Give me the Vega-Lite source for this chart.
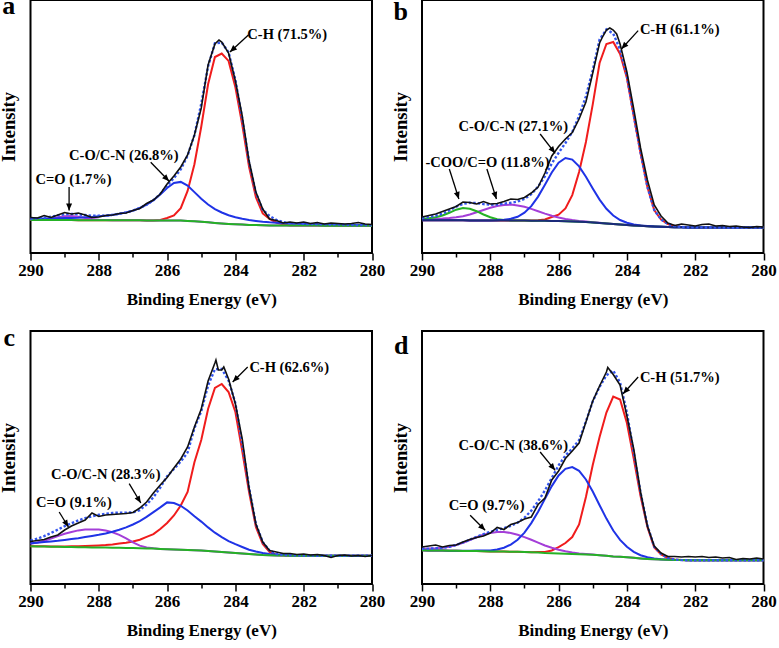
{
"$schema": "https://vega.github.io/schema/vega-lite/v6.json",
"background": "white",
"padding": {"left": -1.5, "top": -8, "right": 0, "bottom": 0},
"autosize": {"type": "pad"},
"datasets": {"xps": [
{"p":"a","e":290,"bg":33,"ch":33,"co":34.2,"cdo":33,"fit":34.2,"exp":35.5},
{"p":"a","e":289.8,"bg":33,"ch":33,"co":34.3,"cdo":33.3,"fit":34.6,"exp":35},
{"p":"a","e":289.6,"bg":33,"ch":33,"co":34.5,"cdo":33.8,"fit":35.3,"exp":37.5},
{"p":"a","e":289.4,"bg":32.9,"ch":32.9,"co":34.5,"cdo":34.6,"fit":36.2,"exp":35.5},
{"p":"a","e":289.2,"bg":32.9,"ch":32.9,"co":34.7,"cdo":35.8,"fit":37.6,"exp":38},
{"p":"a","e":289,"bg":32.9,"ch":32.9,"co":34.9,"cdo":36.7,"fit":38.7,"exp":40.5},
{"p":"a","e":288.8,"bg":32.9,"ch":32.9,"co":35.1,"cdo":36.9,"fit":39.1,"exp":39},
{"p":"a","e":288.6,"bg":32.8,"ch":32.8,"co":35.3,"cdo":36.2,"fit":38.7,"exp":40},
{"p":"a","e":288.4,"bg":32.8,"ch":32.8,"co":35.7,"cdo":35.1,"fit":38,"exp":38},
{"p":"a","e":288.2,"bg":32.8,"ch":32.8,"co":36.1,"cdo":34,"fit":37.3,"exp":35.5},
{"p":"a","e":288,"bg":32.8,"ch":32.8,"co":36.7,"cdo":33.3,"fit":37.2,"exp":36},
{"p":"a","e":287.8,"bg":32.8,"ch":32.8,"co":37.3,"cdo":33,"fit":37.5,"exp":37.5},
{"p":"a","e":287.6,"bg":32.7,"ch":32.7,"co":38.1,"cdo":32.7,"fit":38.1,"exp":38},
{"p":"a","e":287.4,"bg":32.7,"ch":32.7,"co":39.2,"cdo":32.7,"fit":39.2,"exp":39.5},
{"p":"a","e":287.2,"bg":32.7,"ch":32.7,"co":40.6,"cdo":32.7,"fit":40.6,"exp":40},
{"p":"a","e":287,"bg":32.7,"ch":32.7,"co":42.4,"cdo":32.7,"fit":42.4,"exp":42.5},
{"p":"a","e":286.8,"bg":32.7,"ch":32.7,"co":45,"cdo":32.7,"fit":45,"exp":44.5},
{"p":"a","e":286.6,"bg":32.6,"ch":32.6,"co":48.3,"cdo":32.6,"fit":48.3,"exp":49.5},
{"p":"a","e":286.4,"bg":32.6,"ch":32.6,"co":52.8,"cdo":32.6,"fit":52.8,"exp":53},
{"p":"a","e":286.2,"bg":32.6,"ch":33.1,"co":58.6,"cdo":32.6,"fit":59.1,"exp":59},
{"p":"a","e":286,"bg":32.6,"ch":35,"co":65,"cdo":32.6,"fit":67.4,"exp":69},
{"p":"a","e":285.8,"bg":32.5,"ch":37.5,"co":70,"cdo":32.5,"fit":75,"exp":77},
{"p":"a","e":285.6,"bg":32.4,"ch":44.9,"co":71.1,"cdo":32.4,"fit":83.6,"exp":86},
{"p":"a","e":285.4,"bg":32.1,"ch":62.1,"co":67.4,"cdo":32.1,"fit":97.4,"exp":98},
{"p":"a","e":285.2,"bg":31.7,"ch":88.7,"co":60.9,"cdo":31.7,"fit":117.9,"exp":118},
{"p":"a","e":285,"bg":31.2,"ch":126.2,"co":54.2,"cdo":31.2,"fit":149.2,"exp":145},
{"p":"a","e":284.8,"bg":30.7,"ch":168.7,"co":48.5,"cdo":30.7,"fit":186.5,"exp":188},
{"p":"a","e":284.6,"bg":30.1,"ch":196,"co":43.9,"cdo":30.1,"fit":209.8,"exp":209},
{"p":"a","e":284.48,"exp":213},
{"p":"a","e":284.4,"bg":29.6,"ch":199.5,"co":40.5,"cdo":29.6,"fit":210.4,"exp":211},
{"p":"a","e":284.2,"bg":29.1,"ch":192.1,"co":37.8,"cdo":29.1,"fit":200.8,"exp":200},
{"p":"a","e":284,"bg":28.7,"ch":165.7,"co":35.8,"cdo":28.7,"fit":172.8,"exp":172},
{"p":"a","e":283.8,"bg":28.4,"ch":128.4,"co":34.3,"cdo":28.4,"fit":134.3,"exp":137},
{"p":"a","e":283.6,"bg":28.1,"ch":86.1,"co":33,"cdo":28.1,"fit":91,"exp":92},
{"p":"a","e":283.4,"bg":27.9,"ch":55.9,"co":32.1,"cdo":27.9,"fit":60.1,"exp":61},
{"p":"a","e":283.2,"bg":27.7,"ch":39.5,"co":31.3,"cdo":27.7,"fit":43.1,"exp":44},
{"p":"a","e":283,"bg":27.6,"ch":34,"co":30.7,"cdo":27.6,"fit":37.1,"exp":34},
{"p":"a","e":282.8,"bg":27.6,"ch":30.5,"co":30.3,"cdo":27.6,"fit":33.2,"exp":32.5},
{"p":"a","e":282.6,"bg":27.5,"ch":28.5,"co":29.9,"cdo":27.5,"fit":30.9,"exp":30},
{"p":"a","e":282.4,"bg":27.5,"ch":27.6,"co":29.6,"cdo":27.5,"fit":29.7,"exp":31},
{"p":"a","e":282.2,"bg":27.5,"ch":27.5,"co":29.4,"cdo":27.5,"fit":29.4,"exp":30},
{"p":"a","e":282,"bg":27.4,"ch":27.4,"co":29.1,"cdo":27.4,"fit":29.1,"exp":31},
{"p":"a","e":281.8,"bg":27.4,"ch":27.4,"co":29,"cdo":27.4,"fit":29,"exp":29.5},
{"p":"a","e":281.6,"bg":27.4,"ch":27.4,"co":28.8,"cdo":27.4,"fit":28.8,"exp":30.5},
{"p":"a","e":281.4,"bg":27.3,"ch":27.3,"co":28.6,"cdo":27.3,"fit":28.6,"exp":29},
{"p":"a","e":281.2,"bg":27.3,"ch":27.3,"co":28.5,"cdo":27.3,"fit":28.5,"exp":30},
{"p":"a","e":281,"bg":27.3,"ch":27.3,"co":28.4,"cdo":27.3,"fit":28.4,"exp":29.5},
{"p":"a","e":280.8,"bg":27.3,"ch":27.3,"co":28.3,"cdo":27.3,"fit":28.3,"exp":29},
{"p":"a","e":280.6,"bg":27.2,"ch":27.2,"co":28.1,"cdo":27.2,"fit":28.1,"exp":29.5},
{"p":"a","e":280.4,"bg":27.2,"ch":27.2,"co":28,"cdo":27.2,"fit":28,"exp":30.5},
{"p":"a","e":280.2,"bg":27.2,"ch":27.2,"co":27.9,"cdo":27.2,"fit":27.9,"exp":29},
{"p":"a","e":280,"bg":27.2,"ch":27.2,"co":27.9,"cdo":27.2,"fit":27.9,"exp":28.5},

{"p":"b","e":290,"bgn":32.8,"ch":32.8,"co":32.8,"cdo":33.8,"coo":34.3,"fit":35.3,"exp":36},
{"p":"b","e":289.8,"bgn":32.8,"ch":32.8,"co":32.8,"cdo":34,"coo":34.8,"fit":36,"exp":37.5},
{"p":"b","e":289.6,"bgn":32.8,"ch":32.8,"co":32.8,"cdo":34.3,"coo":35.8,"fit":37.3,"exp":39},
{"p":"b","e":289.4,"bgn":32.7,"ch":32.7,"co":32.7,"cdo":34.5,"coo":37.5,"fit":39.3,"exp":41.5},
{"p":"b","e":289.2,"bgn":32.7,"ch":32.7,"co":32.7,"cdo":35,"coo":40.2,"fit":42.5,"exp":44},
{"p":"b","e":289,"bgn":32.7,"ch":32.7,"co":32.7,"cdo":35.7,"coo":43.3,"fit":46.3,"exp":46.5},
{"p":"b","e":288.8,"bgn":32.7,"ch":32.7,"co":32.7,"cdo":36.8,"coo":45,"fit":49.1,"exp":51},
{"p":"b","e":288.6,"bgn":32.6,"ch":32.6,"co":32.6,"cdo":38.5,"coo":44.3,"fit":50.2,"exp":50.5},
{"p":"b","e":288.4,"bgn":32.6,"ch":32.6,"co":32.6,"cdo":40.7,"coo":41.8,"fit":49.9,"exp":49},
{"p":"b","e":288.2,"bgn":32.6,"ch":32.6,"co":32.6,"cdo":43,"coo":38.5,"fit":48.9,"exp":51.5},
{"p":"b","e":288,"bgn":32.6,"ch":32.6,"co":32.6,"cdo":45.2,"coo":35.7,"fit":48.3,"exp":49},
{"p":"b","e":287.8,"bgn":32.5,"ch":32.5,"co":32.7,"cdo":47,"coo":33.8,"fit":48.5,"exp":49.5},
{"p":"b","e":287.6,"bgn":32.5,"ch":32.5,"co":33.2,"cdo":48.1,"coo":33,"fit":49.3,"exp":51.5},
{"p":"b","e":287.4,"bgn":32.5,"ch":32.5,"co":34.2,"cdo":48.4,"coo":32.6,"fit":50.2,"exp":54},
{"p":"b","e":287.2,"bgn":32.4,"ch":32.4,"co":36.2,"cdo":47.6,"coo":32.4,"fit":51.4,"exp":53.5},
{"p":"b","e":287,"bgn":32.4,"ch":32.4,"co":40.3,"cdo":46.2,"coo":32.4,"fit":54.1,"exp":55.5},
{"p":"b","e":286.8,"bgn":32.3,"ch":32.5,"co":46.8,"cdo":44.1,"coo":32.3,"fit":58.8,"exp":60},
{"p":"b","e":286.6,"bgn":32.3,"ch":32.8,"co":56.4,"cdo":41.8,"coo":32.3,"fit":66.4,"exp":66},
{"p":"b","e":286.4,"bgn":32.2,"ch":33.5,"co":68.2,"cdo":39.4,"coo":32.2,"fit":76.7,"exp":80},
{"p":"b","e":286.2,"bgn":32.1,"ch":36,"co":80.5,"cdo":37.2,"coo":32.1,"fit":89.5,"exp":97},
{"p":"b","e":286,"bgn":32,"ch":38.3,"co":90.3,"cdo":35.5,"coo":32,"fit":100.1,"exp":106.5},
{"p":"b","e":285.8,"bgn":31.8,"ch":44.6,"co":95,"cdo":34,"coo":31.8,"fit":110,"exp":114},
{"p":"b","e":285.6,"bgn":31.6,"ch":57.9,"co":93.4,"cdo":32.9,"coo":31.6,"fit":121,"exp":120.5},
{"p":"b","e":285.4,"bgn":31.3,"ch":81,"co":86.6,"cdo":32,"coo":31.3,"fit":137,"exp":134},
{"p":"b","e":285.2,"bgn":31,"ch":111,"co":76.3,"cdo":31.4,"coo":31,"fit":156.7,"exp":151},
{"p":"b","e":285,"bgn":30.6,"ch":148.6,"co":64.6,"cdo":30.8,"coo":30.6,"fit":182.8,"exp":180},
{"p":"b","e":284.8,"bgn":30.1,"ch":190,"co":53.4,"cdo":30.2,"coo":30.1,"fit":213.4,"exp":210},
{"p":"b","e":284.7,"exp":217},
{"p":"b","e":284.6,"bgn":29.6,"ch":209,"co":44.2,"cdo":29.6,"coo":29.6,"fit":223.6,"exp":223},
{"p":"b","e":284.5,"exp":225},
{"p":"b","e":284.4,"bgn":29.1,"ch":211,"co":37.5,"cdo":29.1,"coo":29.1,"fit":219.4,"exp":223},
{"p":"b","e":284.3,"exp":219},
{"p":"b","e":284.2,"bgn":28.6,"ch":199,"co":33,"cdo":28.6,"coo":28.6,"fit":203.4,"exp":209},
{"p":"b","e":284,"bgn":28.1,"ch":175,"co":30.2,"cdo":28.1,"coo":28.1,"fit":177.1,"exp":181},
{"p":"b","e":283.8,"bgn":27.6,"ch":137,"co":28.5,"cdo":27.6,"coo":27.6,"fit":137.9,"exp":144},
{"p":"b","e":283.6,"bgn":27.2,"ch":100,"co":27.6,"cdo":27.2,"coo":27.2,"fit":100.4,"exp":105},
{"p":"b","e":283.4,"bgn":26.8,"ch":66,"co":27,"cdo":26.8,"coo":26.8,"fit":66.2,"exp":73},
{"p":"b","e":283.2,"bgn":26.5,"ch":43,"co":26.5,"cdo":26.5,"coo":26.5,"fit":43,"exp":48},
{"p":"b","e":283,"bgn":26.2,"ch":33.5,"co":26.2,"cdo":26.2,"coo":26.2,"fit":33.5,"exp":37},
{"p":"b","e":282.8,"bgn":26,"ch":29,"co":26,"cdo":26,"coo":26,"fit":29,"exp":30},
{"p":"b","e":282.6,"bgn":25.8,"ch":27,"co":25.8,"cdo":25.8,"coo":25.8,"fit":27,"exp":27.5},
{"p":"b","e":282.4,"bgn":25.7,"ch":26,"co":25.7,"cdo":25.7,"coo":25.7,"fit":26,"exp":29},
{"p":"b","e":282.2,"bgn":25.6,"ch":25.6,"co":25.6,"cdo":25.6,"coo":25.6,"fit":25.6,"exp":28},
{"p":"b","e":282,"bgn":25.6,"ch":25.6,"co":25.6,"cdo":25.6,"coo":25.6,"fit":25.6,"exp":27},
{"p":"b","e":281.8,"bgn":25.6,"ch":25.6,"co":25.6,"cdo":25.6,"coo":25.6,"fit":25.6,"exp":28.5},
{"p":"b","e":281.6,"bgn":25.5,"ch":25.5,"co":25.5,"cdo":25.5,"coo":25.5,"fit":25.5,"exp":29},
{"p":"b","e":281.4,"bgn":25.5,"ch":25.5,"co":25.5,"cdo":25.5,"coo":25.5,"fit":25.5,"exp":27},
{"p":"b","e":281.2,"bgn":25.5,"ch":25.5,"co":25.5,"cdo":25.5,"coo":25.5,"fit":25.5,"exp":27.5},
{"p":"b","e":281,"bgn":25.5,"ch":25.5,"co":25.5,"cdo":25.5,"coo":25.5,"fit":25.5,"exp":26.5},
{"p":"b","e":280.8,"bgn":25.5,"ch":25.5,"co":25.5,"cdo":25.5,"coo":25.5,"fit":25.5,"exp":27},
{"p":"b","e":280.6,"bgn":25.5,"ch":25.5,"co":25.5,"cdo":25.5,"coo":25.5,"fit":25.5,"exp":26},
{"p":"b","e":280.4,"bgn":25.5,"ch":25.5,"co":25.5,"cdo":25.5,"coo":25.5,"fit":25.5,"exp":25.5},
{"p":"b","e":280.2,"bgn":25.5,"ch":25.5,"co":25.5,"cdo":25.5,"coo":25.5,"fit":25.5,"exp":26.5},
{"p":"b","e":280,"bgn":25.5,"ch":25.5,"co":25.5,"cdo":25.5,"coo":25.5,"fit":25.5,"exp":26},

{"p":"c","e":290,"bg":37.7,"ch":37.7,"co":40.7,"cdo":40.3,"fit":43.3,"exp":42.5},
{"p":"c","e":289.8,"bg":37.6,"ch":37.7,"co":41.3,"cdo":41.5,"fit":45.3,"exp":43.5},
{"p":"c","e":289.6,"bg":37.5,"ch":37.7,"co":41.9,"cdo":43.3,"fit":47.9,"exp":44.5},
{"p":"c","e":289.4,"bg":37.3,"ch":37.6,"co":42.5,"cdo":45.5,"fit":51,"exp":47},
{"p":"c","e":289.2,"bg":37.2,"ch":37.6,"co":43.2,"cdo":47.9,"fit":54.3,"exp":49},
{"p":"c","e":289,"bg":37.1,"ch":37.6,"co":44.1,"cdo":50.3,"fit":57.8,"exp":54},
{"p":"c","e":288.8,"bg":37,"ch":37.7,"co":45,"cdo":52,"fit":60.7,"exp":58},
{"p":"c","e":288.6,"bg":36.8,"ch":37.8,"co":45.8,"cdo":53.6,"fit":63.6,"exp":61},
{"p":"c","e":288.4,"bg":36.7,"ch":38,"co":46.9,"cdo":54.4,"fit":65.9,"exp":64},
{"p":"c","e":288.2,"bg":36.6,"ch":38.3,"co":48,"cdo":54.6,"fit":67.7,"exp":71},
{"p":"c","e":288,"bg":36.5,"ch":38.6,"co":49.2,"cdo":54.4,"fit":69.2,"exp":67.5},
{"p":"c","e":287.8,"bg":36.4,"ch":39,"co":50.6,"cdo":53.4,"fit":70.2,"exp":69},
{"p":"c","e":287.6,"bg":36.3,"ch":39.6,"co":52.3,"cdo":51.8,"fit":71.1,"exp":69.5},
{"p":"c","e":287.4,"bg":36.2,"ch":40.4,"co":54.2,"cdo":49.1,"fit":71.3,"exp":70},
{"p":"c","e":287.2,"bg":36.1,"ch":41.3,"co":56.6,"cdo":45.7,"fit":71.4,"exp":70.5},
{"p":"c","e":287,"bg":36,"ch":42.5,"co":59.5,"cdo":41.6,"fit":71.6,"exp":71.5},
{"p":"c","e":286.8,"bg":35.8,"ch":44.3,"co":62.8,"cdo":38.4,"fit":73.9,"exp":76},
{"p":"c","e":286.6,"bg":35.6,"ch":47.1,"co":67.1,"cdo":36.5,"fit":79.5,"exp":82},
{"p":"c","e":286.4,"bg":35.4,"ch":49.9,"co":71.9,"cdo":35.7,"fit":86.7,"exp":91},
{"p":"c","e":286.2,"bg":35.1,"ch":55,"co":76.6,"cdo":35.1,"fit":96.5,"exp":99},
{"p":"c","e":286,"bg":34.8,"ch":61,"co":81.6,"cdo":34.8,"fit":107.8,"exp":106.5},
{"p":"c","e":285.8,"bg":34.5,"ch":68.5,"co":81,"cdo":34.5,"fit":115,"exp":116},
{"p":"c","e":285.6,"bg":34.2,"ch":78.5,"co":78.2,"cdo":34.2,"fit":122.5,"exp":125},
{"p":"c","e":285.4,"bg":34,"ch":92,"co":73.5,"cdo":34,"fit":131.5,"exp":137},
{"p":"c","e":285.2,"bg":33.8,"ch":121.8,"co":67.8,"cdo":33.8,"fit":155.8,"exp":157},
{"p":"c","e":285,"bg":33.6,"ch":144,"co":62.4,"cdo":33.6,"fit":172.8,"exp":175},
{"p":"c","e":284.8,"bg":33.1,"ch":175,"co":56.6,"cdo":33.1,"fit":198.5,"exp":203},
{"p":"c","e":284.6,"bg":32.5,"ch":196,"co":51.3,"cdo":32.5,"fit":214.8,"exp":221},
{"p":"c","e":284.57,"exp":224},
{"p":"c","e":284.5,"exp":214},
{"p":"c","e":284.4,"bg":31.9,"ch":200,"co":46.9,"cdo":31.9,"fit":215,"exp":214},
{"p":"c","e":284.34,"exp":217},
{"p":"c","e":284.2,"bg":31.4,"ch":192,"co":42.9,"cdo":31.4,"fit":203.5,"exp":205},
{"p":"c","e":284,"bg":31,"ch":172,"co":39.8,"cdo":31,"fit":180.8,"exp":180},
{"p":"c","e":283.8,"bg":30.5,"ch":133,"co":37,"cdo":30.5,"fit":139.5,"exp":145},
{"p":"c","e":283.6,"bg":30,"ch":92,"co":34.3,"cdo":30,"fit":96.3,"exp":96},
{"p":"c","e":283.4,"bg":29.5,"ch":57,"co":32.5,"cdo":29.5,"fit":60,"exp":60},
{"p":"c","e":283.2,"bg":29,"ch":40,"co":31,"cdo":29,"fit":42,"exp":42},
{"p":"c","e":283,"bg":28.7,"ch":32,"co":30.1,"cdo":28.7,"fit":33.4,"exp":33.5},
{"p":"c","e":282.8,"bg":28.5,"ch":29,"co":29.5,"cdo":28.5,"fit":30,"exp":32},
{"p":"c","e":282.6,"bg":28.4,"ch":28.5,"co":29.1,"cdo":28.4,"fit":29.2,"exp":30.5},
{"p":"c","e":282.4,"bg":28.3,"ch":28.3,"co":28.8,"cdo":28.3,"fit":28.8,"exp":30.5},
{"p":"c","e":282.2,"bg":28.3,"ch":28.3,"co":28.6,"cdo":28.3,"fit":28.6,"exp":29.5},
{"p":"c","e":282,"bg":28.3,"ch":28.3,"co":28.5,"cdo":28.3,"fit":28.5,"exp":30},
{"p":"c","e":281.8,"bg":28.3,"ch":28.3,"co":28.4,"cdo":28.3,"fit":28.4,"exp":29},
{"p":"c","e":281.6,"bg":28.2,"ch":28.2,"co":28.3,"cdo":28.2,"fit":28.3,"exp":29.5},
{"p":"c","e":281.4,"bg":28.2,"ch":28.2,"co":28.3,"cdo":28.2,"fit":28.3,"exp":28.5},
{"p":"c","e":281.2,"bg":28.2,"ch":28.2,"co":28.2,"cdo":28.2,"fit":28.2,"exp":26.5},
{"p":"c","e":281,"bg":28.2,"ch":28.2,"co":28.2,"cdo":28.2,"fit":28.2,"exp":28.5},
{"p":"c","e":280.8,"bg":28.2,"ch":28.2,"co":28.2,"cdo":28.2,"fit":28.2,"exp":29},
{"p":"c","e":280.6,"bg":28.2,"ch":28.2,"co":28.2,"cdo":28.2,"fit":28.2,"exp":28},
{"p":"c","e":280.4,"bg":28.2,"ch":28.2,"co":28.2,"cdo":28.2,"fit":28.2,"exp":28.5},
{"p":"c","e":280.2,"bg":28.2,"ch":28.2,"co":28.2,"cdo":28.2,"fit":28.2,"exp":27.5},
{"p":"c","e":280,"bg":28.2,"ch":28.2,"co":28.2,"cdo":28.2,"fit":28.2,"exp":28.5},

{"p":"d","e":290,"bg":33.7,"ch":33.7,"co":33.7,"cdo":35.3,"fit":35.3,"exp":37},
{"p":"d","e":289.8,"bg":33.6,"ch":33.6,"co":33.6,"cdo":35.4,"fit":35.4,"exp":38},
{"p":"d","e":289.6,"bg":33.5,"ch":33.5,"co":33.5,"cdo":35.7,"fit":35.7,"exp":39},
{"p":"d","e":289.4,"bg":33.4,"ch":33.4,"co":33.4,"cdo":36.2,"fit":36.2,"exp":37},
{"p":"d","e":289.2,"bg":33.3,"ch":33.3,"co":33.3,"cdo":37.2,"fit":37.2,"exp":38.5},
{"p":"d","e":289,"bg":33.2,"ch":33.2,"co":33.2,"cdo":39,"fit":39,"exp":39},
{"p":"d","e":288.8,"bg":33.1,"ch":33.1,"co":33.3,"cdo":41.3,"fit":41.5,"exp":42},
{"p":"d","e":288.6,"bg":33,"ch":33,"co":33.3,"cdo":44,"fit":44.3,"exp":44.5},
{"p":"d","e":288.4,"bg":32.9,"ch":32.9,"co":33.4,"cdo":46.7,"fit":47.2,"exp":46.5},
{"p":"d","e":288.2,"bg":32.7,"ch":32.7,"co":33.4,"cdo":49.2,"fit":49.9,"exp":48},
{"p":"d","e":288,"bg":32.6,"ch":32.6,"co":33.6,"cdo":51.1,"fit":52.1,"exp":51},
{"p":"d","e":287.8,"bg":32.5,"ch":32.5,"co":34.5,"cdo":52.1,"fit":54.1,"exp":56.5},
{"p":"d","e":287.6,"bg":32.4,"ch":32.4,"co":36.3,"cdo":52,"fit":55.9,"exp":54.5},
{"p":"d","e":287.4,"bg":32.3,"ch":32.3,"co":39.4,"cdo":51,"fit":58.1,"exp":59.5},
{"p":"d","e":287.2,"bg":32.2,"ch":32.2,"co":44.3,"cdo":49.3,"fit":61.4,"exp":61.5},
{"p":"d","e":287,"bg":32,"ch":32,"co":51.4,"cdo":46.9,"fit":66.3,"exp":65},
{"p":"d","e":286.8,"bg":31.8,"ch":31.8,"co":60.9,"cdo":44.2,"fit":73.3,"exp":67},
{"p":"d","e":286.6,"bg":31.4,"ch":31.9,"co":72.3,"cdo":41.3,"fit":82.7,"exp":79.5},
{"p":"d","e":286.4,"bg":31,"ch":32,"co":85.1,"cdo":38.5,"fit":93.6,"exp":86},
{"p":"d","e":286.2,"bg":30.8,"ch":33.5,"co":97.9,"cdo":36.2,"fit":106,"exp":104},
{"p":"d","e":286,"bg":30.5,"ch":36.8,"co":108.5,"cdo":34.3,"fit":118.6,"exp":113},
{"p":"d","e":285.8,"bg":30.2,"ch":41,"co":115.2,"cdo":32.7,"fit":128.5,"exp":125.5},
{"p":"d","e":285.6,"bg":29.9,"ch":47,"co":116.9,"cdo":31.5,"fit":135.6,"exp":133},
{"p":"d","e":285.4,"bg":29.7,"ch":59.5,"co":113.1,"cdo":30.6,"fit":143.8,"exp":141},
{"p":"d","e":285.2,"bg":29.5,"ch":87,"co":104.5,"cdo":30,"fit":162.5,"exp":162},
{"p":"d","e":285,"bg":29.2,"ch":119,"co":92.5,"cdo":29.5,"fit":182.6,"exp":183},
{"p":"d","e":284.8,"bg":28.7,"ch":147,"co":78.8,"cdo":28.8,"fit":197.2,"exp":198},
{"p":"d","e":284.6,"bg":28.2,"ch":171.5,"co":65.4,"cdo":28.2,"fit":208.7,"exp":212},
{"p":"d","e":284.56,"exp":216.5},
{"p":"d","e":284.4,"bg":27.6,"ch":187.5,"co":53.5,"cdo":27.6,"fit":213.4,"exp":209.5},
{"p":"d","e":284.2,"bg":27.2,"ch":184.5,"co":44.1,"cdo":27.2,"fit":201.4,"exp":199},
{"p":"d","e":284,"bg":26.8,"ch":161,"co":37.2,"cdo":26.8,"fit":171.4,"exp":168},
{"p":"d","e":283.8,"bg":26.2,"ch":125.5,"co":32.1,"cdo":26.2,"fit":131.4,"exp":135},
{"p":"d","e":283.6,"bg":25.6,"ch":88,"co":28.8,"cdo":25.6,"fit":91.2,"exp":92},
{"p":"d","e":283.4,"bg":25.1,"ch":57,"co":26.7,"cdo":25.1,"fit":58.6,"exp":58},
{"p":"d","e":283.2,"bg":24.7,"ch":36.5,"co":25.5,"cdo":24.7,"fit":37.3,"exp":38},
{"p":"d","e":283,"bg":24.4,"ch":29.5,"co":24.8,"cdo":24.4,"fit":29.9,"exp":31},
{"p":"d","e":282.8,"bg":24.2,"ch":26,"co":24.4,"cdo":24.2,"fit":26,"exp":27.5},
{"p":"d","e":282.6,"bg":24,"ch":24.5,"co":24,"cdo":24,"fit":24.5,"exp":27.5},
{"p":"d","e":282.4,"bg":23.9,"ch":23.9,"co":23.9,"cdo":23.9,"fit":23.9,"exp":27},
{"p":"d","e":282.2,"bg":23.8,"ch":23.8,"co":23.8,"cdo":23.8,"fit":23.8,"exp":27.5},
{"p":"d","e":282,"bg":23.7,"ch":23.7,"co":23.7,"cdo":23.7,"fit":23.7,"exp":27},
{"p":"d","e":281.8,"bg":23.7,"ch":23.7,"co":23.7,"cdo":23.7,"fit":23.7,"exp":27.5},
{"p":"d","e":281.6,"bg":23.7,"ch":23.7,"co":23.7,"cdo":23.7,"fit":23.7,"exp":26.5},
{"p":"d","e":281.4,"bg":23.7,"ch":23.7,"co":23.7,"cdo":23.7,"fit":23.7,"exp":27},
{"p":"d","e":281.2,"bg":23.7,"ch":23.7,"co":23.7,"cdo":23.7,"fit":23.7,"exp":26},
{"p":"d","e":281,"bg":23.7,"ch":23.7,"co":23.7,"cdo":23.7,"fit":23.7,"exp":26.5},
{"p":"d","e":280.8,"bg":23.7,"ch":23.7,"co":23.7,"cdo":23.7,"fit":23.7,"exp":24.5},
{"p":"d","e":280.6,"bg":23.7,"ch":23.7,"co":23.7,"cdo":23.7,"fit":23.7,"exp":25.5},
{"p":"d","e":280.4,"bg":23.7,"ch":23.7,"co":23.7,"cdo":23.7,"fit":23.7,"exp":25},
{"p":"d","e":280.2,"bg":23.7,"ch":23.7,"co":23.7,"cdo":23.7,"fit":23.7,"exp":26},
{"p":"d","e":280,"bg":23.7,"ch":23.7,"co":23.7,"cdo":23.7,"fit":23.7,"exp":25},

{"p":"a","k":"let","t":"a","e":290.64,"v":238.7},
{"p":"a","k":"lab","t":"C-H (71.5%)","e":283.65,"v":214.5},
{"p":"a","k":"arr","e":283.62,"v":218,"e2":284.16,"v2":201},
{"p":"a","k":"lab","t":"C-O/C-N (26.8%)","e":288.87,"v":93},
{"p":"a","k":"arr","e":286.48,"v":90.7,"e2":285.94,"v2":71.7},
{"p":"a","k":"lab","t":"C=O (1.7%)","e":289.85,"v":68.7},
{"p":"a","k":"arr","e":288.87,"v":66,"e2":288.87,"v2":42.4},

{"p":"b","k":"let","t":"b","e":290.62,"v":233.2},
{"p":"b","k":"lab","t":"C-H (61.1%)","e":283.62,"v":219.5},
{"p":"b","k":"arr","e":283.67,"v":222.4,"e2":284.16,"v2":204},
{"p":"b","k":"lab","t":"C-O/C-N (27.1%)","e":288.93,"v":122.4},
{"p":"b","k":"arr","e":286.54,"v":119,"e2":286.1,"v2":99.7},
{"p":"b","k":"lab","t":"-COO/C=O (11.8%)","e":289.9,"v":85.7},
{"p":"b","k":"arr","e":289.2,"v":84,"e2":288.92,"v2":54},
{"p":"b","k":"arr","e":288.1,"v":84,"e2":287.82,"v2":54},

{"p":"c","k":"let","t":"c","e":290.62,"v":238.5},
{"p":"c","k":"lab","t":"C-H (62.6%)","e":283.59,"v":212},
{"p":"c","k":"arr","e":283.64,"v":217,"e2":284.08,"v2":202},
{"p":"c","k":"lab","t":"C-O/C-N (28.3%)","e":289.4,"v":105.3},
{"p":"c","k":"arr","e":287.11,"v":100.3,"e2":286.77,"v2":81},
{"p":"c","k":"lab","t":"C=O (9.1%)","e":289.84,"v":77},
{"p":"c","k":"arr","e":289.16,"v":72,"e2":288.89,"v2":57},

{"p":"d","k":"let","t":"d","e":290.61,"v":230.3},
{"p":"d","k":"lab","t":"C-H (51.7%)","e":283.62,"v":202},
{"p":"d","k":"arr","e":283.67,"v":207,"e2":284.11,"v2":190.3},
{"p":"d","k":"lab","t":"C-O/C-N (38.6%)","e":288.93,"v":133.7},
{"p":"d","k":"arr","e":286.54,"v":132,"e2":286.1,"v2":113.7},
{"p":"d","k":"lab","t":"C=O (9.7%)","e":289.22,"v":73.7},
{"p":"d","k":"arr","e":288.59,"v":68.7,"e2":288.15,"v2":53.7}
]},
"data": {"name": "xps"},
"columns": 2,
"bounds": "flush",
"spacing": {"row": 78, "column": 49.5},
"concat": [
{"transform": [{"filter": "datum.p === 'a'"}],
 "width": 341.5, "height": 253,
 "encoding": {
  "x": {"field": "e", "type": "quantitative", "title": "Binding Energy (eV)", "scale": {"domain": [290, 280], "nice": false, "zero": false},
   "axis": {"values": [290,289,288,287,286,285,284,283,282,281,280], "labelExpr": "datum.value % 2 === 0 ? datum.label : ''", "domain": false, "grid": false, "tickColor": "black", "tickWidth": 1.5, "tickSize": {"condition": {"test": "datum.value % 2 === 0", "value": 7}, "value": 4}, "labelFont": "Liberation Serif", "labelFontSize": 17, "labelFontWeight": "bold", "labelColor": "black", "labelPadding": 2.5, "labelFlush": false, "labelOverlap": false, "titleFont": "Liberation Serif", "titleFontSize": 17, "titleFontWeight": "bold", "titleColor": "black", "titlePadding": 13}},
  "y": {"field": "v", "type": "quantitative", "title": "Intensity", "scale": {"domain": [0, 253], "nice": false, "zero": false},
   "axis": {"labels": false, "ticks": false, "domain": false, "grid": false, "titleFont": "Liberation Serif", "titleFontSize": 18.5, "titleFontWeight": "bold", "titleColor": "black", "titlePadding": 12}}},
 "layer": [
  {"transform": [{"filter": "!datum.k"}, {"fold": ["ch", "cdo", "coo", "co"], "as": ["s", "v"]}, {"filter": "isValid(datum.v)"}], "mark": {"type": "line", "strokeWidth": 2}, "encoding": {"color": {"field": "s", "type": "nominal", "legend": null, "scale": {"domain": ["bg","bgn","coo","cdo","co","ch"], "range": ["#25b225","#1b2a7a","#25b225","#a43ed8","#1f33e6","#f01c1c"]}}}},
  {"transform": [{"filter": "!datum.k"}, {"fold": ["bg", "bgn"], "as": ["s", "v"]}, {"filter": "isValid(datum.v)"}], "mark": {"type": "line", "strokeWidth": 2}, "encoding": {"color": {"field": "s", "type": "nominal", "legend": null, "scale": {"domain": ["bg","bgn","coo","cdo","co","ch"], "range": ["#25b225","#1b2a7a","#25b225","#a43ed8","#1f33e6","#f01c1c"]}}}},
  {"transform": [{"filter": "!datum.k"}, {"fold": ["fit"], "as": ["s", "v"]}, {"filter": "isValid(datum.v)"}], "mark": {"type": "line", "strokeWidth": 2.4, "color": "#3355ee", "strokeDash": [2.5, 2]}},
  {"transform": [{"filter": "!datum.k"}, {"fold": ["exp"], "as": ["s", "v"]}, {"filter": "isValid(datum.v)"}], "mark": {"type": "line", "strokeWidth": 1.6, "color": "#111111"}},
  {"transform": [{"filter": "datum.k === 'arr'"}], "mark": {"type": "rule", "color": "black", "strokeWidth": 1.3}, "encoding": {"x2": {"field": "e2"}, "y2": {"field": "v2"}}},
  {"transform": [{"filter": "datum.k === 'arr'"}, {"calculate": "atan2((datum.e2 - datum.e) * -34.15, datum.v2 - datum.v) * 180 / PI", "as": "ang"}], "mark": {"type": "point", "shape": "M0,0L-0.42,1L0.42,1Z", "filled": true, "color": "black", "size": 200, "opacity": 1, "strokeWidth": 0}, "encoding": {"x": {"field": "e2", "type": "quantitative", "title": "Binding Energy (eV)"}, "y": {"field": "v2", "type": "quantitative", "title": "Intensity"}, "angle": {"field": "ang", "type": "quantitative", "scale": null}}},
  {"transform": [{"filter": "datum.k === 'lab'"}], "mark": {"type": "text", "align": "left", "baseline": "alphabetic", "font": "Liberation Serif", "fontSize": 14.5, "fontWeight": "bold", "color": "black"}, "encoding": {"text": {"field": "t"}}},
  {"transform": [{"filter": "datum.k === 'let'"}], "mark": {"type": "text", "align": "center", "baseline": "alphabetic", "font": "Liberation Serif", "fontSize": 26, "fontWeight": "bold", "color": "black"}, "encoding": {"text": {"field": "t"}}}
 ]},
{"transform": [{"filter": "datum.p === 'b'"}],
 "width": 341.5, "height": 253,
 "encoding": {
  "x": {"field": "e", "type": "quantitative", "title": "Binding Energy (eV)", "scale": {"domain": [290, 280], "nice": false, "zero": false},
   "axis": {"values": [290,289,288,287,286,285,284,283,282,281,280], "labelExpr": "datum.value % 2 === 0 ? datum.label : ''", "domain": false, "grid": false, "tickColor": "black", "tickWidth": 1.5, "tickSize": {"condition": {"test": "datum.value % 2 === 0", "value": 7}, "value": 4}, "labelFont": "Liberation Serif", "labelFontSize": 17, "labelFontWeight": "bold", "labelColor": "black", "labelPadding": 2.5, "labelFlush": false, "labelOverlap": false, "titleFont": "Liberation Serif", "titleFontSize": 17, "titleFontWeight": "bold", "titleColor": "black", "titlePadding": 13}},
  "y": {"field": "v", "type": "quantitative", "title": "Intensity", "scale": {"domain": [0, 253], "nice": false, "zero": false},
   "axis": {"labels": false, "ticks": false, "domain": false, "grid": false, "titleFont": "Liberation Serif", "titleFontSize": 18.5, "titleFontWeight": "bold", "titleColor": "black", "titlePadding": 12}}},
 "layer": [
  {"transform": [{"filter": "!datum.k"}, {"fold": ["ch", "cdo", "coo", "co"], "as": ["s", "v"]}, {"filter": "isValid(datum.v)"}], "mark": {"type": "line", "strokeWidth": 2}, "encoding": {"color": {"field": "s", "type": "nominal", "legend": null, "scale": {"domain": ["bg","bgn","coo","cdo","co","ch"], "range": ["#25b225","#1b2a7a","#25b225","#a43ed8","#1f33e6","#f01c1c"]}}}},
  {"transform": [{"filter": "!datum.k"}, {"fold": ["bg", "bgn"], "as": ["s", "v"]}, {"filter": "isValid(datum.v)"}], "mark": {"type": "line", "strokeWidth": 2}, "encoding": {"color": {"field": "s", "type": "nominal", "legend": null, "scale": {"domain": ["bg","bgn","coo","cdo","co","ch"], "range": ["#25b225","#1b2a7a","#25b225","#a43ed8","#1f33e6","#f01c1c"]}}}},
  {"transform": [{"filter": "!datum.k"}, {"fold": ["fit"], "as": ["s", "v"]}, {"filter": "isValid(datum.v)"}], "mark": {"type": "line", "strokeWidth": 2.4, "color": "#3355ee", "strokeDash": [2.5, 2]}},
  {"transform": [{"filter": "!datum.k"}, {"fold": ["exp"], "as": ["s", "v"]}, {"filter": "isValid(datum.v)"}], "mark": {"type": "line", "strokeWidth": 1.6, "color": "#111111"}},
  {"transform": [{"filter": "datum.k === 'arr'"}], "mark": {"type": "rule", "color": "black", "strokeWidth": 1.3}, "encoding": {"x2": {"field": "e2"}, "y2": {"field": "v2"}}},
  {"transform": [{"filter": "datum.k === 'arr'"}, {"calculate": "atan2((datum.e2 - datum.e) * -34.15, datum.v2 - datum.v) * 180 / PI", "as": "ang"}], "mark": {"type": "point", "shape": "M0,0L-0.42,1L0.42,1Z", "filled": true, "color": "black", "size": 200, "opacity": 1, "strokeWidth": 0}, "encoding": {"x": {"field": "e2", "type": "quantitative", "title": "Binding Energy (eV)"}, "y": {"field": "v2", "type": "quantitative", "title": "Intensity"}, "angle": {"field": "ang", "type": "quantitative", "scale": null}}},
  {"transform": [{"filter": "datum.k === 'lab'"}], "mark": {"type": "text", "align": "left", "baseline": "alphabetic", "font": "Liberation Serif", "fontSize": 14.5, "fontWeight": "bold", "color": "black"}, "encoding": {"text": {"field": "t"}}},
  {"transform": [{"filter": "datum.k === 'let'"}], "mark": {"type": "text", "align": "center", "baseline": "alphabetic", "font": "Liberation Serif", "fontSize": 26, "fontWeight": "bold", "color": "black"}, "encoding": {"text": {"field": "t"}}}
 ]},
{"transform": [{"filter": "datum.p === 'c'"}],
 "width": 341.5, "height": 253,
 "encoding": {
  "x": {"field": "e", "type": "quantitative", "title": "Binding Energy (eV)", "scale": {"domain": [290, 280], "nice": false, "zero": false},
   "axis": {"values": [290,289,288,287,286,285,284,283,282,281,280], "labelExpr": "datum.value % 2 === 0 ? datum.label : ''", "domain": false, "grid": false, "tickColor": "black", "tickWidth": 1.5, "tickSize": {"condition": {"test": "datum.value % 2 === 0", "value": 7}, "value": 4}, "labelFont": "Liberation Serif", "labelFontSize": 17, "labelFontWeight": "bold", "labelColor": "black", "labelPadding": 2.5, "labelFlush": false, "labelOverlap": false, "titleFont": "Liberation Serif", "titleFontSize": 17, "titleFontWeight": "bold", "titleColor": "black", "titlePadding": 13}},
  "y": {"field": "v", "type": "quantitative", "title": "Intensity", "scale": {"domain": [0, 253], "nice": false, "zero": false},
   "axis": {"labels": false, "ticks": false, "domain": false, "grid": false, "titleFont": "Liberation Serif", "titleFontSize": 18.5, "titleFontWeight": "bold", "titleColor": "black", "titlePadding": 12}}},
 "layer": [
  {"transform": [{"filter": "!datum.k"}, {"fold": ["ch", "cdo", "coo", "co"], "as": ["s", "v"]}, {"filter": "isValid(datum.v)"}], "mark": {"type": "line", "strokeWidth": 2}, "encoding": {"color": {"field": "s", "type": "nominal", "legend": null, "scale": {"domain": ["bg","bgn","coo","cdo","co","ch"], "range": ["#25b225","#1b2a7a","#25b225","#a43ed8","#1f33e6","#f01c1c"]}}}},
  {"transform": [{"filter": "!datum.k"}, {"fold": ["bg", "bgn"], "as": ["s", "v"]}, {"filter": "isValid(datum.v)"}], "mark": {"type": "line", "strokeWidth": 2}, "encoding": {"color": {"field": "s", "type": "nominal", "legend": null, "scale": {"domain": ["bg","bgn","coo","cdo","co","ch"], "range": ["#25b225","#1b2a7a","#25b225","#a43ed8","#1f33e6","#f01c1c"]}}}},
  {"transform": [{"filter": "!datum.k"}, {"fold": ["fit"], "as": ["s", "v"]}, {"filter": "isValid(datum.v)"}], "mark": {"type": "line", "strokeWidth": 2.4, "color": "#3355ee", "strokeDash": [2.5, 2]}},
  {"transform": [{"filter": "!datum.k"}, {"fold": ["exp"], "as": ["s", "v"]}, {"filter": "isValid(datum.v)"}], "mark": {"type": "line", "strokeWidth": 1.6, "color": "#111111"}},
  {"transform": [{"filter": "datum.k === 'arr'"}], "mark": {"type": "rule", "color": "black", "strokeWidth": 1.3}, "encoding": {"x2": {"field": "e2"}, "y2": {"field": "v2"}}},
  {"transform": [{"filter": "datum.k === 'arr'"}, {"calculate": "atan2((datum.e2 - datum.e) * -34.15, datum.v2 - datum.v) * 180 / PI", "as": "ang"}], "mark": {"type": "point", "shape": "M0,0L-0.42,1L0.42,1Z", "filled": true, "color": "black", "size": 200, "opacity": 1, "strokeWidth": 0}, "encoding": {"x": {"field": "e2", "type": "quantitative", "title": "Binding Energy (eV)"}, "y": {"field": "v2", "type": "quantitative", "title": "Intensity"}, "angle": {"field": "ang", "type": "quantitative", "scale": null}}},
  {"transform": [{"filter": "datum.k === 'lab'"}], "mark": {"type": "text", "align": "left", "baseline": "alphabetic", "font": "Liberation Serif", "fontSize": 14.5, "fontWeight": "bold", "color": "black"}, "encoding": {"text": {"field": "t"}}},
  {"transform": [{"filter": "datum.k === 'let'"}], "mark": {"type": "text", "align": "center", "baseline": "alphabetic", "font": "Liberation Serif", "fontSize": 26, "fontWeight": "bold", "color": "black"}, "encoding": {"text": {"field": "t"}}}
 ]},
{"transform": [{"filter": "datum.p === 'd'"}],
 "width": 341.5, "height": 253,
 "encoding": {
  "x": {"field": "e", "type": "quantitative", "title": "Binding Energy (eV)", "scale": {"domain": [290, 280], "nice": false, "zero": false},
   "axis": {"values": [290,289,288,287,286,285,284,283,282,281,280], "labelExpr": "datum.value % 2 === 0 ? datum.label : ''", "domain": false, "grid": false, "tickColor": "black", "tickWidth": 1.5, "tickSize": {"condition": {"test": "datum.value % 2 === 0", "value": 7}, "value": 4}, "labelFont": "Liberation Serif", "labelFontSize": 17, "labelFontWeight": "bold", "labelColor": "black", "labelPadding": 2.5, "labelFlush": false, "labelOverlap": false, "titleFont": "Liberation Serif", "titleFontSize": 17, "titleFontWeight": "bold", "titleColor": "black", "titlePadding": 13}},
  "y": {"field": "v", "type": "quantitative", "title": "Intensity", "scale": {"domain": [0, 253], "nice": false, "zero": false},
   "axis": {"labels": false, "ticks": false, "domain": false, "grid": false, "titleFont": "Liberation Serif", "titleFontSize": 18.5, "titleFontWeight": "bold", "titleColor": "black", "titlePadding": 12}}},
 "layer": [
  {"transform": [{"filter": "!datum.k"}, {"fold": ["ch", "cdo", "coo", "co"], "as": ["s", "v"]}, {"filter": "isValid(datum.v)"}], "mark": {"type": "line", "strokeWidth": 2}, "encoding": {"color": {"field": "s", "type": "nominal", "legend": null, "scale": {"domain": ["bg","bgn","coo","cdo","co","ch"], "range": ["#25b225","#1b2a7a","#25b225","#a43ed8","#1f33e6","#f01c1c"]}}}},
  {"transform": [{"filter": "!datum.k"}, {"fold": ["bg", "bgn"], "as": ["s", "v"]}, {"filter": "isValid(datum.v)"}], "mark": {"type": "line", "strokeWidth": 2}, "encoding": {"color": {"field": "s", "type": "nominal", "legend": null, "scale": {"domain": ["bg","bgn","coo","cdo","co","ch"], "range": ["#25b225","#1b2a7a","#25b225","#a43ed8","#1f33e6","#f01c1c"]}}}},
  {"transform": [{"filter": "!datum.k"}, {"fold": ["fit"], "as": ["s", "v"]}, {"filter": "isValid(datum.v)"}], "mark": {"type": "line", "strokeWidth": 2.4, "color": "#3355ee", "strokeDash": [2.5, 2]}},
  {"transform": [{"filter": "!datum.k"}, {"fold": ["exp"], "as": ["s", "v"]}, {"filter": "isValid(datum.v)"}], "mark": {"type": "line", "strokeWidth": 1.6, "color": "#111111"}},
  {"transform": [{"filter": "datum.k === 'arr'"}], "mark": {"type": "rule", "color": "black", "strokeWidth": 1.3}, "encoding": {"x2": {"field": "e2"}, "y2": {"field": "v2"}}},
  {"transform": [{"filter": "datum.k === 'arr'"}, {"calculate": "atan2((datum.e2 - datum.e) * -34.15, datum.v2 - datum.v) * 180 / PI", "as": "ang"}], "mark": {"type": "point", "shape": "M0,0L-0.42,1L0.42,1Z", "filled": true, "color": "black", "size": 200, "opacity": 1, "strokeWidth": 0}, "encoding": {"x": {"field": "e2", "type": "quantitative", "title": "Binding Energy (eV)"}, "y": {"field": "v2", "type": "quantitative", "title": "Intensity"}, "angle": {"field": "ang", "type": "quantitative", "scale": null}}},
  {"transform": [{"filter": "datum.k === 'lab'"}], "mark": {"type": "text", "align": "left", "baseline": "alphabetic", "font": "Liberation Serif", "fontSize": 14.5, "fontWeight": "bold", "color": "black"}, "encoding": {"text": {"field": "t"}}},
  {"transform": [{"filter": "datum.k === 'let'"}], "mark": {"type": "text", "align": "center", "baseline": "alphabetic", "font": "Liberation Serif", "fontSize": 26, "fontWeight": "bold", "color": "black"}, "encoding": {"text": {"field": "t"}}}
 ]}
],
"config": {"view": {"stroke": "black", "strokeWidth": 2}, "font": "Liberation Serif"}
}
